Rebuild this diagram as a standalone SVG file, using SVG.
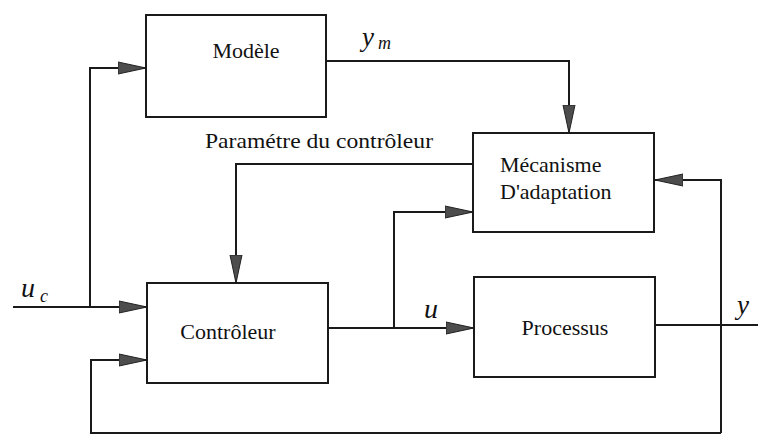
<svg xmlns="http://www.w3.org/2000/svg" width="758" height="437" viewBox="0 0 758 437">
<style>
.box{fill:#fff;stroke:#1a1a1a;stroke-width:2}
.ln{fill:none;stroke:#1a1a1a;stroke-width:2}
text{font-family:'Liberation Serif','DejaVu Serif','Times New Roman',Times,serif;fill:#111}
.t{font-size:22px}
.m{font-style:italic}
</style>
<defs>
<marker id="ah" viewBox="0 0 28 14" refX="28" refY="7" markerWidth="28" markerHeight="14" markerUnits="userSpaceOnUse" orient="auto">
<path d="M0,1 L28,7 L0,13 z" fill="#4d4d4d" stroke="#222" stroke-width="1"/>
</marker>
</defs>
<rect width="758" height="437" fill="#fff"/>
<g id="connectors">
<path class="ln" d="M13,307 L147,307" marker-end="url(#ah)"/>
<path class="ln" d="M90,307 L90,68 L146,68" marker-end="url(#ah)"/>
<path class="ln" d="M326,61 L569,61 L569,133" marker-end="url(#ah)"/>
<path class="ln" d="M473,164 L236,164 L236,283" marker-end="url(#ah)"/>
<path class="ln" d="M328,328 L474,328" marker-end="url(#ah)"/>
<path class="ln" d="M394,328 L394,212 L473,212" marker-end="url(#ah)"/>
<path class="ln" d="M655,325 L758,325"/>
<path class="ln" d="M721,433 L721,180 L655,180" marker-end="url(#ah)"/>
<path class="ln" d="M721,433 L91,433 L91,360 L147,360" marker-end="url(#ah)"/>
</g>
<g id="modele">
<rect class="box" x="146" y="15" width="180" height="102"/>
<text class="t" x="246" y="58" text-anchor="middle">Modèle</text>
</g>
<g id="mecanisme">
<rect class="box" x="473" y="133" width="181" height="99"/>
<text class="t" x="500" y="172">Mécanisme</text>
<text class="t" x="500" y="199">D'adaptation</text>
</g>
<g id="controleur">
<rect class="box" x="147" y="283" width="181" height="100"/>
<text class="t" x="228" y="339" text-anchor="middle">Contrôleur</text>
</g>
<g id="processus">
<rect class="box" x="474" y="277" width="181" height="100"/>
<text class="t" x="565" y="335" text-anchor="middle">Processus</text>
</g>
<g id="labels">
<text class="t" x="205" y="148" textLength="228" lengthAdjust="spacingAndGlyphs">Paramétre du contrôleur</text>
<text class="m" x="362" y="46" font-size="27">y<tspan font-size="18" dx="4" dy="3">m</tspan></text>
<text class="m" x="21" y="297" font-size="28">u<tspan font-size="18" dx="5" dy="5">c</tspan></text>
<text class="m" x="424" y="318" font-size="28">u</text>
<text class="m" x="737" y="314" font-size="27">y</text>
</g>
</svg>
